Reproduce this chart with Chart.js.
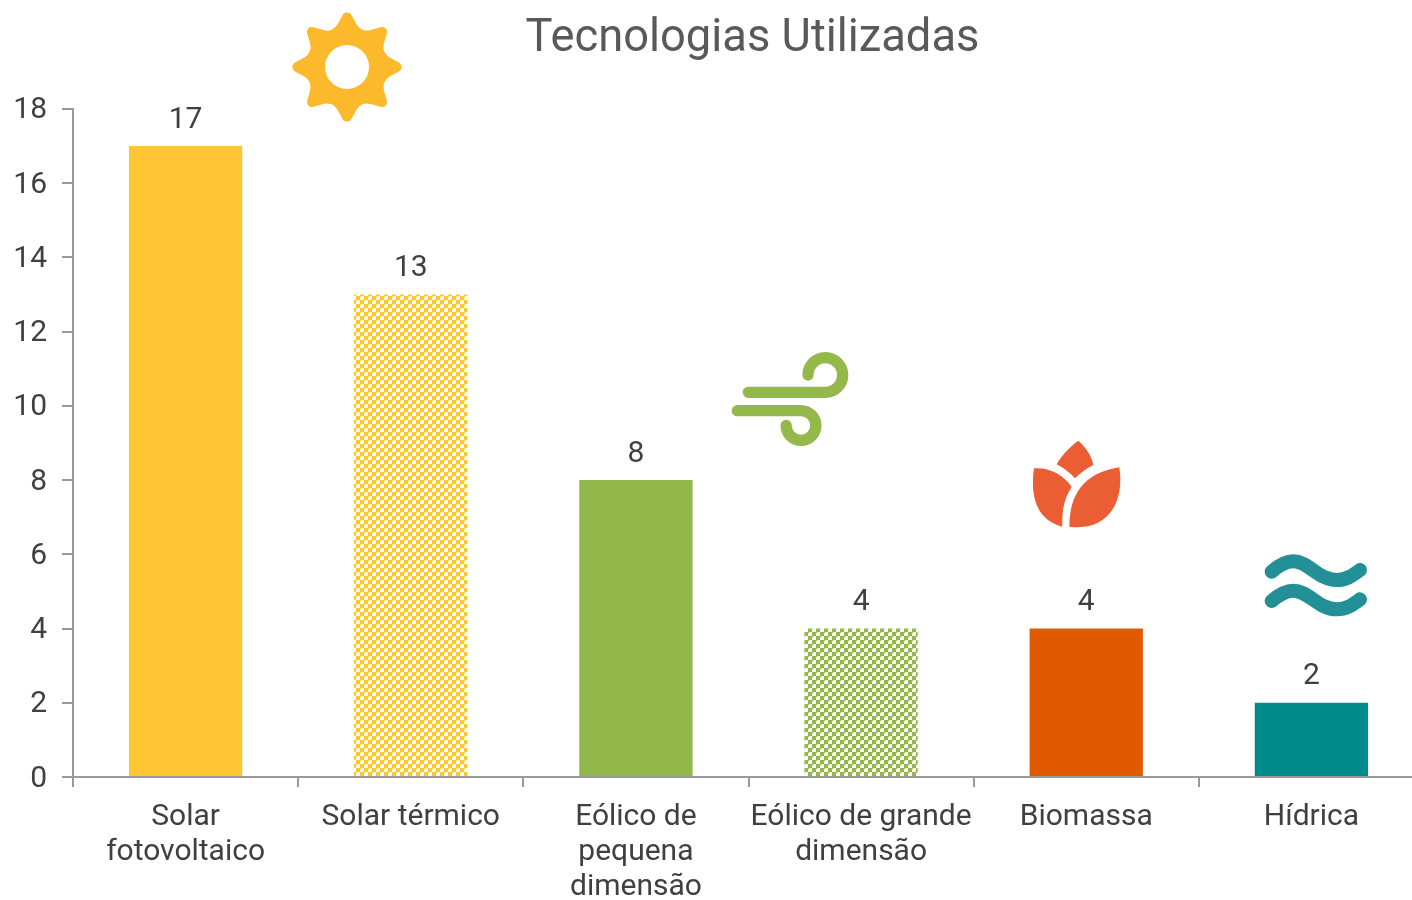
<!DOCTYPE html>
<html><head><meta charset="utf-8">
<style>html,body{margin:0;padding:0;background:#fff;overflow:hidden;width:1412px;height:900px}#w{position:relative;width:1412px;height:900px;overflow:hidden}canvas{display:block}</style>
<script src="https://cdn.jsdelivr.net/npm/chart.js@4"></script>
</head><body><div id="w"><canvas id="c" width="1424" height="900"></canvas></div>
<script>
const categories=[["Solar","fotovoltaico"],"Solar térmico",["Eólico de","pequena","dimensão"],["Eólico de grande","dimensão"],"Biomassa","Hídrica"];
const values=[17,13,8,4,4,2];
const yTicks=[0,2,4,6,8,10,12,14,16,18];
const titleText="Tecnologias Utilizadas";
const AMBER="#FFC533",GREEN="#92B74A",ORANGE="#E15A00",TEAL="#008B8B";
const FONT="Roboto";
function trellis(color){
  const c=document.createElement('canvas');c.width=8;c.height=8;
  const x=c.getContext('2d');x.fillStyle=color;x.fillRect(0,0,8,8);x.fillStyle='#fff';
  x.fillRect(0,0,4,4);x.fillRect(4,4,4,4);
  x.fillStyle=color;x.fillRect(0,0,1,1);x.fillRect(4,4,1,1);
  return x.createPattern(c,'repeat');
}
const fills=[AMBER,trellis(AMBER),GREEN,trellis(GREEN),ORANGE,TEAL];
const valueLabels={id:'valueLabels',afterDatasetsDraw(ch){
  const c=ch.ctx;c.save();c.font='30px '+FONT;c.fillStyle='#404040';c.textAlign='center';c.textBaseline='alphabetic';
  ch.getDatasetMeta(0).data.forEach((b,i)=>c.fillText(String(values[i]),b.x,b.y-18.5));
  c.restore();
}};
const icons={id:'icons',afterDraw(ch){
  const c=ch.ctx;
  // sun
  c.save();c.translate(347,67);c.fillStyle='#FBB92B';c.beginPath();
  const pts=[];
  for(let i=0;i<16;i++){const a=i*Math.PI/8-Math.PI/2,r=i%2?37:60;pts.push([r*Math.cos(a),r*Math.sin(a),i%2?12:5]);}
  const s=pts[15];c.moveTo((s[0]+pts[0][0])/2,(s[1]+pts[0][1])/2);
  for(let i=0;i<16;i++){const p=pts[i],q=pts[(i+1)%16];c.arcTo(p[0],p[1],(p[0]+q[0])/2,(p[1]+q[1])/2,p[2]);}
  c.closePath();c.moveTo(22,0);c.arc(0,0,22,0,Math.PI*2,true);c.fill('evenodd');c.restore();
  // wind
  c.save();c.translate(720,340);c.scale(1/3,1/3);c.strokeStyle='#95B84A';c.lineWidth=34;c.lineCap='round';
  c.beginPath();c.moveTo(85,157);c.lineTo(316,157);c.arc(316,105,52,Math.PI/2,Math.PI,true);c.stroke();
  c.beginPath();c.moveTo(52,212);c.lineTo(243,212);c.arc(243,256.5,44.5,-Math.PI/2,Math.PI,false);c.stroke();
  c.restore();
  // flower
  c.save();c.translate(1020,430);c.scale(1/3,1/3);c.fillStyle='#EB5D33';
  c.beginPath();c.moveTo(175,32);c.bezierCurveTo(195,50,215,75,220,105);c.quadraticCurveTo(190,120,165,145);c.quadraticCurveTo(140,118,110,103);c.bezierCurveTo(125,75,150,50,175,32);c.fill();
  c.beginPath();c.moveTo(42,115);c.bezierCurveTo(90,112,130,135,155,170);c.bezierCurveTo(127,215,127,250,127,290);c.bezierCurveTo(50,270,30,200,42,115);c.fill();
  c.beginPath();c.moveTo(298,112);c.bezierCurveTo(215,125,148,170,148,290);c.bezierCurveTo(260,305,315,220,298,112);c.fill();
  c.restore();
  // water
  c.save();c.translate(1250,545);c.scale(1/3,1/3);c.strokeStyle='#238F96';c.lineWidth=42;c.lineCap='round';
  for(const dy of [0,88]){c.beginPath();c.moveTo(65,80+dy);c.bezierCurveTo(90,58+dy,110,49+dy,130,49+dy);c.bezierCurveTo(175,49+dy,205,105+dy,260,105+dy);c.bezierCurveTo(290,105+dy,310,90+dy,330,75+dy);c.stroke();}
  c.restore();
}};
const shiftTitle={id:'shiftTitle',afterLayout(ch){ch.titleBlock.left=93;ch.titleBlock.right=1412;}};
new Chart(document.getElementById('c'),{
  type:'bar',
  data:{labels:categories,datasets:[{data:values,backgroundColor:fills,barPercentage:0.503,categoryPercentage:1}]},
  plugins:[valueLabels,icons,shiftTitle],
  options:{
    responsive:false,animation:false,
    layout:{padding:0},
    plugins:{legend:{display:false},tooltip:{enabled:false},
      title:{display:true,text:titleText,color:'#595959',font:{family:FONT,size:45.3,weight:'normal',lineHeight:1.2},padding:{top:12,bottom:42.6}}},
    scales:{
      x:{offset:true,
        grid:{display:true,offset:true,drawOnChartArea:false,drawTicks:true,tickLength:10,color:'#999999',lineWidth:2},
        border:{display:true,color:'#999999',width:2},
        ticks:{color:'#404040',font:{family:FONT,size:30,lineHeight:1.167},maxRotation:0,autoSkip:false,padding:12.5},
        afterFit(s){s.height=123;}},
      y:{min:0,max:18,
        grid:{display:true,drawOnChartArea:false,drawTicks:true,tickLength:11,color:'#999999',lineWidth:2},
        border:{display:true,color:'#999999',width:2},
        ticks:{stepSize:2,color:'#404040',font:{family:FONT,size:30},padding:15,labelOffset:2},
        afterBuildTicks(s){s.ticks=yTicks.map(v=>({value:v}));},
        afterFit(s){s.width=73;}}
    }
  }
});
</script></body></html>
